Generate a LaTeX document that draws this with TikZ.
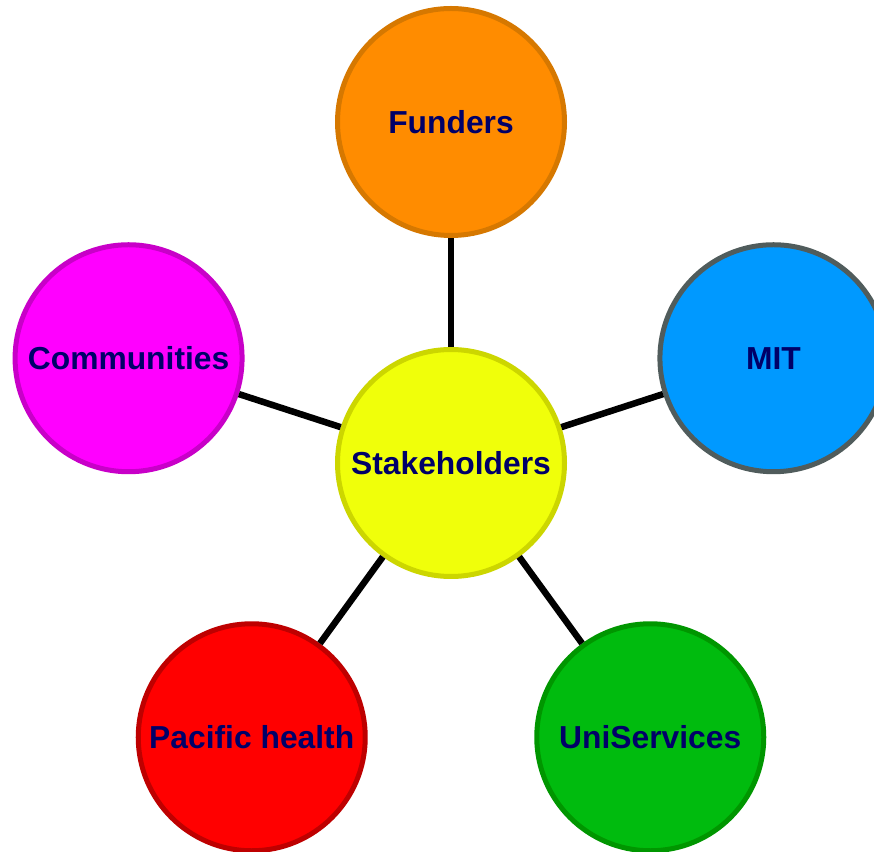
\documentclass[tikz,border=0pt]{standalone}
\usepackage{fontspec}
\setmainfont{Liberation Sans}
\usepackage{tikz}
\usetikzlibrary{positioning, calc}

\begin{document}
\begin{tikzpicture}[x=1pt, y=1pt,
    party/.style={circle, draw, line width=5pt, minimum size=227pt, inner sep=0pt, align=center, text=labelcolor, font=\bfseries\fontsize{31.8}{36}\selectfont},
    link/.style={line width=6.5pt, black}]
  % Define colors for the stakeholder map
  \definecolor{labelcolor}{RGB}{0,0,104}      % Navy text
  \definecolor{hubfill}{RGB}{240,255,10}      % Yellow
  \definecolor{hubline}{RGB}{204,214,0}
  \definecolor{fundfill}{RGB}{255,140,0}      % Orange
  \definecolor{fundline}{RGB}{214,120,0}
  \definecolor{mitfill}{RGB}{0,153,255}       % Blue
  \definecolor{mitline}{RGB}{80,92,92}
  \definecolor{commfill}{RGB}{255,0,255}      % Magenta
  \definecolor{commline}{RGB}{200,0,200}
  \definecolor{unifill}{RGB}{0,187,14}        % Green
  \definecolor{uniline}{RGB}{0,150,0}
  \definecolor{pacfill}{RGB}{255,0,0}         % Red
  \definecolor{pacline}{RGB}{190,0,0}

  \useasboundingbox (0,0) rectangle (874,851);

  % Centre circle
  \node[party, fill=hubfill, draw=hubline] (hub) at (451,388) {Stakeholders};

  % Surrounding circles
  \node[party, fill=fundfill, draw=fundline] (funders) at ($(hub)+(90:341)$) {Funders};
  \node[party, fill=mitfill, draw=mitline] (mit) at ($(hub)+(18:339)$) {MIT};
  \node[party, fill=commfill, draw=commline] (comm) at ($(hub)+(162:339)$) {Communities};
  \node[party, fill=pacfill, draw=pacline] (pacific) at ($(hub)+(234:339)$) {Pacific health};
  \node[party, fill=unifill, draw=uniline] (uni) at ($(hub)+(306:339)$) {UniServices};

  % Spokes
  \draw[link] (hub) -- (funders);
  \draw[link] (hub) -- (mit);
  \draw[link] (hub) -- (comm);
  \draw[link] (hub) -- (pacific);
  \draw[link] (hub) -- (uni);
\end{tikzpicture}
\end{document}
